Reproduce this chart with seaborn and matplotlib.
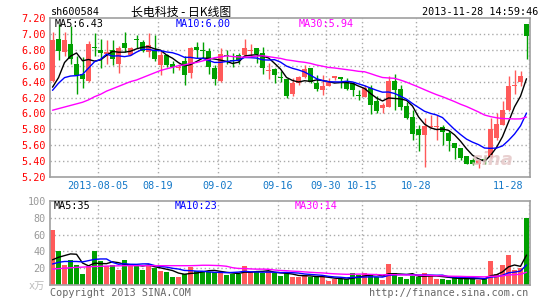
import numpy as np
import pandas as pd
import matplotlib
matplotlib.use("Agg")
import matplotlib.pyplot as plt
import seaborn as sns

# ---------------- data ----------------
opens = [6.41, 6.94, 6.77, 6.87, 6.62, 6.50, 6.41, 6.83, 6.80, 6.75,
         6.80, 6.62, 6.88, 6.74, 6.93, 6.90, 6.77, 6.80, 6.61, 6.73,
         6.62, 6.57, 6.66, 6.51, 6.84, 6.80, 6.79, 6.57, 6.41, 6.74,
         6.67, 6.73, 6.73, 6.79, 6.82, 6.76, 6.53, 6.56, 6.445, 6.43,
         6.24, 6.38, 6.46, 6.57, 6.38, 6.30, 6.35, 6.44, 6.455, 6.40,
         6.38, 6.225, 6.21, 6.32, 6.16, 6.07, 6.08, 6.41, 6.31, 6.09,
         5.96, 5.81, 5.73, 5.835, 5.83, 5.83, 5.75, 5.63, 5.56, 5.46,
         5.41, 5.365, 5.415, 5.45, 5.69, 5.86, 6.04, 6.35, 6.40, 7.12]
highs = [7.03, 7.13, 7.03, 7.10, 6.72, 6.71, 6.91, 7.01, 6.93, 6.92,
         6.92, 6.85, 7.03, 6.84, 6.99, 6.92, 7.01, 6.98, 6.80, 6.75,
         6.66, 6.62, 6.72, 6.83, 6.90, 6.90, 6.82, 6.61, 6.82, 6.80,
         6.76, 6.76, 6.94, 6.87, 6.82, 6.83, 6.64, 6.57, 6.53, 6.43,
         6.44, 6.47, 6.61, 6.57, 6.48, 6.48, 6.44, 6.47, 6.455, 6.45,
         6.40, 6.29, 6.36, 6.355, 6.22, 6.13, 6.47, 6.49, 6.36, 6.14,
         6.04, 5.86, 5.94, 5.98, 5.98, 5.86, 5.78, 5.63, 5.57, 5.47,
         5.44, 5.43, 5.46, 5.94, 6.00, 6.16, 6.47, 6.54, 6.53, 7.12]
lows = [6.39, 6.67, 6.72, 6.62, 6.24, 6.32, 6.39, 6.72, 6.57, 6.62,
        6.61, 6.51, 6.77, 6.73, 6.82, 6.77, 6.71, 6.66, 6.48, 6.58,
        6.51, 6.54, 6.36, 6.45, 6.70, 6.70, 6.49, 6.36, 6.40, 6.62,
        6.58, 6.62, 6.71, 6.71, 6.64, 6.49, 6.43, 6.38, 6.40, 6.19,
        6.22, 6.36, 6.44, 6.38, 6.28, 6.23, 6.34, 6.42, 6.32, 6.29,
        6.22, 6.17, 6.21, 5.99, 6.00, 6.00, 6.08, 6.04, 6.04, 5.93,
        5.66, 5.53, 5.32, 5.82, 5.67, 5.60, 5.53, 5.43, 5.42, 5.36,
        5.35, 5.31, 5.36, 5.44, 5.67, 5.85, 6.03, 6.24, 6.34, 6.69]
closes = [6.92, 6.79, 6.92, 6.69, 6.48, 6.43, 6.87, 6.82, 6.76, 6.77,
          6.68, 6.82, 6.82, 6.82, 6.92, 6.78, 6.86, 6.68, 6.74, 6.61,
          6.58, 6.58, 6.48, 6.82, 6.80, 6.79, 6.58, 6.43, 6.75, 6.72,
          6.66, 6.66, 6.82, 6.80, 6.75, 6.57, 6.55, 6.48, 6.44, 6.22,
          6.38, 6.455, 6.56, 6.40, 6.31, 6.34, 6.39, 6.47, 6.43, 6.31,
          6.29, 6.22, 6.32, 6.11, 6.03, 6.10, 6.41, 6.29, 6.08, 5.94,
          5.74, 5.73, 5.84, 5.84, 5.835, 5.77, 5.65, 5.56, 5.44, 5.36,
          5.36, 5.42, 5.41, 5.80, 5.87, 6.04, 6.34, 6.36, 6.47, 6.97]
volumes = [65, 40, 24, 30, 24, 13, 23, 40, 28, 23,
           24, 18, 30, 24, 23, 18, 24, 20, 17, 15,
           10, 9, 13, 22, 17, 17, 16, 15, 16, 11.5,
           13, 13, 23, 15, 16, 14, 17, 14, 11, 14,
           9, 9, 12, 10, 10, 9, 5, 7, 7, 7,
           14, 12, 14, 12, 10, 6, 25, 14, 10, 7.5,
           11, 10, 14, 11, 7.5, 7.5, 6, 10, 7.5, 7,
           7, 6, 7, 28, 13, 24, 36, 18, 20, 80]

# moving-average values at the start of the window
price_ma5_head = [6.33, 6.45, 6.64, 6.72]
price_ma10_head = [6.29, 6.38, 6.45, 6.47, 6.475, 6.49, 6.57, 6.65, 6.68]
price_ma30_head = [6.04, 6.06, 6.08, 6.10, 6.12, 6.14, 6.17, 6.21, 6.24, 6.28,
                   6.31, 6.34, 6.37, 6.40, 6.42, 6.45, 6.48, 6.51, 6.54, 6.56,
                   6.58, 6.60, 6.61, 6.63, 6.64, 6.66, 6.68, 6.70, 6.71]
vol_ma5_head = [30, 33, 35, 37]
vol_ma10_head = [25, 27, 28, 28, 28, 27.5, 29, 30.5, 31]
vol_ma30_head = [19, 19.5, 20, 20.5, 21, 21.3, 21.7, 22, 22.3, 22.5,
                 22.7, 22.8, 23, 23, 23, 23, 23, 23, 23, 23,
                 23, 23, 23, 23, 23.2, 23.5, 23.5, 23.3, 23]

date_labels = ["2013-08-05", "08-19", "09-02", "09-16", "09-30", "10-15", "10-28", "11-28"]
date_index = [7, 17, 27, 37, 45, 51, 60, 79]
price_ticks = [7.20, 7.00, 6.80, 6.60, 6.40, 6.20, 6.00, 5.80, 5.60, 5.40, 5.20]
volume_ticks = [100, 80, 60, 40, 20]

stock_code = "sh600584"
title_text = "长电科技 - 日K线图"
time_text = "2013-11-28 14:59:46"
price_legend = ["MA5:6.43", "MA10:6.00", "MA30:5.94"]
volume_legend = ["MA5:35", "MA10:23", "MA30:14"]
unit_text = "x万"
copyright_text = "Copyright 2013 SINA.COM"
url_text = "http://finance.sina.com.cn"

# ---------------- derived ----------------
n = len(closes)
idx = np.arange(n)
df = pd.DataFrame({"x": idx, "open": opens, "high": highs, "low": lows,
                   "close": closes, "vol": volumes})


def moving_average(series, window, head):
    ma = series.rolling(window).mean().to_numpy()
    ma[:len(head)] = head
    return ma


df["ma5"] = moving_average(df["close"], 5, price_ma5_head)
df["ma10"] = moving_average(df["close"], 10, price_ma10_head)
df["ma30"] = moving_average(df["close"], 30, price_ma30_head)
df["vma5"] = moving_average(df["vol"], 5, vol_ma5_head)
df["vma10"] = moving_average(df["vol"], 10, vol_ma10_head)
df["vma30"] = moving_average(df["vol"], 30, vol_ma30_head)

# ---------------- style ----------------
sns.set_theme(style="white")
plt.rcParams["font.family"] = ["DejaVu Sans Mono", "Noto Sans CJK SC"]

RED = "#FF5A5A"
GREEN = "#00A000"
GRID = "#AAAAAA"
BORDER = "#A0A0A0"
DATE_BLUE = "#1478C8"
W, H = 545, 300
FS = 7.3

fig = plt.figure(figsize=(W / 100, H / 100), dpi=100)
fig.patch.set_facecolor("white")


def px_axes(left, top, right, bottom):
    return fig.add_axes([left / W, 1 - bottom / H, (right - left) / W, (bottom - top) / H])


ax = px_axes(50, 18, 529.5, 177)
axv = px_axes(50, 201, 529.5, 285)
XLIM = (-0.42, 79.5)

up = df["close"] >= df["open"]
colors = np.where(up, RED, GREEN)

# grid
grid_x = [min(i + 0.6, 79.42) for i in date_index]
for a in (ax, axv):
    for gx in grid_x:
        a.axvline(gx, color=GRID, lw=1, ls=(0, (1, 2)), zorder=0)
for p in price_ticks[1:-1]:
    ax.axhline(p, color=GRID, lw=1, ls=(0, (1, 2)), zorder=0)
for v in volume_ticks[1:]:
    axv.axhline(v, color=GRID, lw=1, ls=(0, (1, 2)), zorder=0)

# candles
ax.vlines(df["x"], df["low"], df["high"], colors=colors, lw=1, zorder=2)
body_bottom = np.minimum(df["open"], df["close"])
body_h = np.maximum(np.abs(df["close"] - df["open"]), 0.012)
ax.bar(df["x"], body_h, bottom=body_bottom, width=0.75, color=colors, lw=0, zorder=3)

sns.lineplot(data=df, x="x", y="ma5", ax=ax, color="black", lw=1, zorder=4)
sns.lineplot(data=df, x="x", y="ma10", ax=ax, color="#0000FF", lw=1, zorder=4)
sns.lineplot(data=df, x="x", y="ma30", ax=ax, color="#FF00FF", lw=1, zorder=4)

# volume
axv.bar(df["x"], df["vol"], width=0.78, color=colors, lw=0, zorder=2)
sns.lineplot(data=df, x="x", y="vma5", ax=axv, color="black", lw=1, zorder=4)
sns.lineplot(data=df, x="x", y="vma10", ax=axv, color="#0000FF", lw=1, zorder=4)
sns.lineplot(data=df, x="x", y="vma30", ax=axv, color="#FF00FF", lw=1, zorder=4)

ax.set_ylim(5.20, 7.20)
axv.set_ylim(0, 100)
for a in (ax, axv):
    a.set_xlim(*XLIM)
    a.set_xticks([])
    a.set_xlabel("")
    a.set_ylabel("")
    a.set_facecolor("white")
    for s in a.spines.values():
        s.set_visible(True)
        s.set_color(BORDER)
        s.set_linewidth(1.2)

ax.set_yticks(price_ticks)
ax.set_yticklabels([f"{p:.2f}" for p in price_ticks], color="#FF0000", fontsize=FS)
axv.set_yticks(volume_ticks)
axv.set_yticklabels([str(v) for v in volume_ticks], color="#999999", fontsize=FS)
for a in (ax, axv):
    a.tick_params(axis="y", length=0, pad=3)

# date labels
trans = matplotlib.transforms.blended_transform_factory(ax.transData, ax.transAxes)
for i, (gx, lab) in enumerate(zip(grid_x, date_labels)):
    if i == len(date_labels) - 1:
        ax.text(gx - 1.0, -9 / 159, lab, transform=trans, ha="right", va="center",
                color=DATE_BLUE, fontsize=FS)
    else:
        ax.text(gx, -9 / 159, lab, transform=trans, ha="center", va="center",
                color=DATE_BLUE, fontsize=FS)


def ftext(x, y, s, **kw):
    fig.text(x / W, 1 - y / H, s, **kw)


# header
ftext(51, 12, stock_code, ha="left", va="center", fontsize=FS, color="black")
ftext(181, 12, title_text, ha="center", va="center", fontsize=8.6, color="black",
      family=["Noto Sans CJK SC", "DejaVu Sans"])
ftext(538, 12, time_text, ha="right", va="center", fontsize=FS, color="black")

# legends
leg_colors = ["black", "#0000FF", "#FF00FF"]
for s, x0, c in zip(price_legend, [55, 176, 299], leg_colors):
    ftext(x0, 24, s, ha="left", va="center", fontsize=FS, color=c)
for s, x0, c in zip(volume_legend, [54, 175, 295], leg_colors):
    ftext(x0, 206, s, ha="left", va="center", fontsize=FS, color=c)

# footer
ftext(45, 286, unit_text, ha="right", va="center", fontsize=FS, color="#BBBBBB")
ftext(50, 292.5, copyright_text, ha="left", va="center", fontsize=FS, color="#666666")
ftext(528, 292.5, url_text, ha="right", va="center", fontsize=FS, color="#666666")

# watermark
ftext(493, 160, "sina", ha="center", va="center", fontsize=13, color="#E3C4C4",
      family=["DejaVu Sans"], style="italic", weight="bold", alpha=0.8)

fig.savefig("out.png", dpi=100, facecolor="white")
